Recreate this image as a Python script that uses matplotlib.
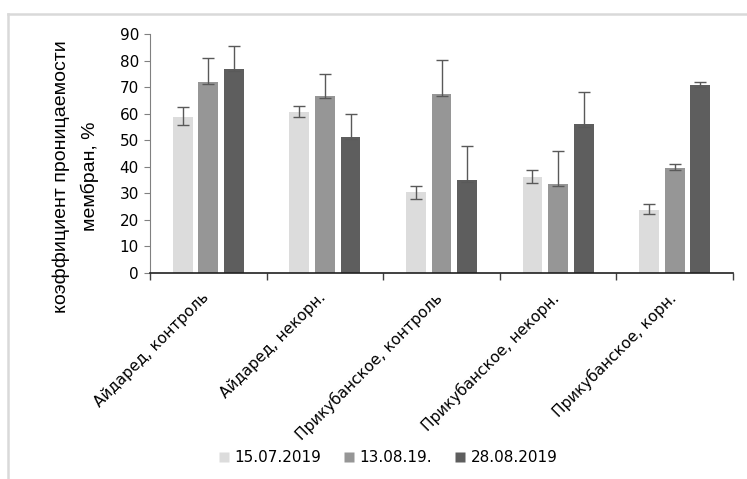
import numpy as np
import matplotlib.pyplot as plt
from matplotlib.lines import Line2D

plt.rcParams['font.family'] = ['DejaVu Sans']

categories = ['Айдаред, контроль', 'Айдаред, некорн.', 'Прикубанское, контроль',
              'Прикубанское, некорн.', 'Прикубанское, корн.']
series = ['15.07.2019', '13.08.19.', '28.08.2019']
values_1 = [58.8, 60.7, 30.6, 36.2, 23.8]
values_2 = [71.9, 66.7, 67.5, 33.6, 39.6]
values_3 = [76.7, 51.3, 35.1, 56.3, 70.8]
# upper / lower error
err_up_1 = [3.7, 2.1, 2.1, 2.5, 2.1]
err_lo_1 = [3.1, 2.0, 2.6, 2.4, 1.6]
err_up_2 = [8.9, 8.2, 12.9, 12.3, 1.4]
err_lo_2 = [0.75, 0.9, 0.9, 0.9, 0.75]
err_up_3 = [8.8, 8.5, 12.9, 11.8, 1.0]
err_lo_3 = [0.75, 0.75, 1.0, 1.4, 0.9]

colors = ['#dcdcdc', '#969696', '#5e5e5e']

fig = plt.figure(figsize=(7.47, 4.79), dpi=100)
ax = fig.add_axes([0.2008, 0.430, 0.7805, 0.499])

x = np.arange(len(categories))
width = 0.17
pitch = 0.22
all_vals = [values_1, values_2, values_3]
all_err = [(err_lo_1, err_up_1), (err_lo_2, err_up_2), (err_lo_3, err_up_3)]
for i in range(3):
    ax.bar(x + (i - 1) * pitch, all_vals[i], width, color=colors[i],
           edgecolor='none', label=series[i], zorder=2)
    ax.errorbar(x + (i - 1) * pitch, all_vals[i], yerr=np.array(all_err[i]), fmt='none',
                ecolor='#595959', elinewidth=1.0, capsize=4, capthick=1.0, zorder=3)

ax.set_xlim(-0.5, len(categories) - 0.5)
ax.set_ylim(0, 90)
ax.set_yticks(range(0, 91, 10))
ax.tick_params(axis='y', labelsize=11, length=4, width=0.8, color='#808080', pad=4)

ax.set_xticks(np.arange(-0.5, len(categories), 1.0))
ax.set_xticklabels([])
ax.tick_params(axis='x', length=5, width=1.0, color='#404040', direction='out')
for xi, cat in zip(x, categories):
    ax.annotate(cat, xy=(xi, 0), xycoords=('data', 'axes fraction'),
                xytext=(-5, -12), textcoords='offset points',
                rotation=45, rotation_mode='anchor', ha='right', va='top',
                fontsize=11)

for s in ['top', 'right']:
    ax.spines[s].set_visible(False)
ax.spines['left'].set_color('#808080')
ax.spines['bottom'].set_color('#202020')
ax.spines['bottom'].set_linewidth(1.2)

ax.set_ylabel('коэффициент проницаемости\nмембран, %', fontsize=14,
              family='Liberation Sans', linespacing=1.75)
ax.yaxis.set_label_coords(-0.088, 0.405)

handles = [Line2D([0], [0], marker='s', linestyle='none', markersize=7,
                  markerfacecolor=c, markeredgecolor='none') for c in colors]
fig.legend(handles, series, loc='center', bbox_to_anchor=(0.519, 0.044),
           ncol=3, frameon=False, fontsize=11, handletextpad=0.3,
           columnspacing=1.4, handlelength=0.8)

# light frame lines at top and left
fig.add_artist(Line2D([0.011, 1.0], [0.971, 0.971], transform=fig.transFigure,
                      color='#d9d9d9', linewidth=1.8))
fig.add_artist(Line2D([0.011, 0.011], [0.0, 0.971], transform=fig.transFigure,
                      color='#d9d9d9', linewidth=1.8))

plt.savefig('out.png', dpi=100, facecolor='white')
